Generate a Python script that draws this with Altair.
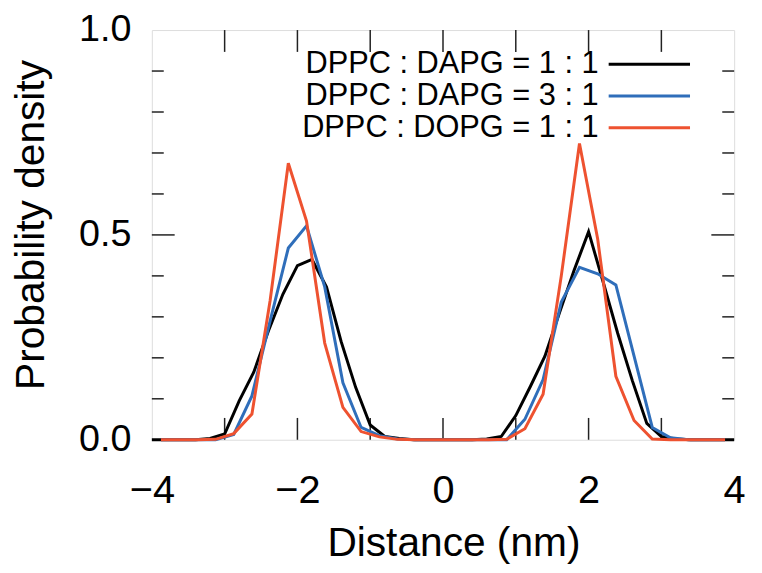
import altair as alt
import pandas as pd

series_names = ["DPPC : DAPG = 1 : 1", "DPPC : DAPG = 3 : 1", "DPPC : DOPG = 1 : 1"]
series_colors = ["#000000", "#2F6EBA", "#EE5230"]

# DPPC : DAPG = 1 : 1 (0.2 nm bins)
black_x = [-4.0, -3.8, -3.6, -3.4, -3.2, -3.0, -2.8, -2.6, -2.4, -2.2, -2.0, -1.8, -1.6, -1.4,
           -1.2, -1.0, -0.8, -0.6, -0.4, -0.2, 0.0, 0.2, 0.4, 0.6, 0.8, 1.0, 1.2, 1.4, 1.6, 1.8,
           2.0, 2.2, 2.4, 2.6, 2.8, 3.0, 3.2, 3.4, 3.6, 3.8, 4.0]
black_y = [0, 0, 0, 0, 0.003, 0.014, 0.095, 0.165, 0.265, 0.355, 0.425, 0.44, 0.373, 0.24,
           0.128, 0.036, 0.008, 0.003, 0, 0, 0, 0, 0, 0.002, 0.008, 0.059, 0.13, 0.204, 0.31, 0.413,
           0.508, 0.385, 0.26, 0.145, 0.04, 0.008, 0.002, 0, 0, 0, 0]

# 0.25 nm bins for the other two systems
bin_x = [-3.875, -3.625, -3.375, -3.125, -2.875, -2.625, -2.375, -2.125, -1.875, -1.625, -1.375,
         -1.125, -0.875, -0.625, -0.375, -0.125, 0.125, 0.375, 0.625, 0.875, 1.125, 1.375, 1.625,
         1.875, 2.125, 2.375, 2.625, 2.875, 3.125, 3.375, 3.625, 3.875]
blue_y = [0, 0, 0, 0, 0.013, 0.107, 0.29, 0.468, 0.522, 0.373, 0.139, 0.03, 0.01, 0.002, 0, 0,
          0, 0, 0, 0, 0.05, 0.147, 0.336, 0.421, 0.405, 0.378, 0.204, 0.03, 0.005, 0, 0, 0]
orange_y = [0, 0, 0, 0.001, 0.015, 0.063, 0.34, 0.675, 0.534, 0.236, 0.079, 0.02, 0.007, 0.001,
            0, 0, 0, 0, 0, 0.001, 0.027, 0.111, 0.40, 0.723, 0.49, 0.155, 0.047, 0.002, 0, 0, 0, 0]

x_labels = [-4, -2, 0, 2, 4]
y_labels = [0.0, 0.5, 1.0]
x_ticks = [-3, -2, -1, 0, 1, 2, 3]
y_minor = [0.1, 0.2, 0.3, 0.4, 0.6, 0.7, 0.8, 0.9]
y_major = [0.5]

rows = []
for xv, yv in zip(black_x, black_y):
    rows.append({"series": series_names[0], "x": xv, "y": yv})
for xv, yv in zip(bin_x, blue_y):
    rows.append({"series": series_names[1], "x": xv, "y": yv})
for xv, yv in zip(bin_x, orange_y):
    rows.append({"series": series_names[2], "x": xv, "y": yv})
df = pd.DataFrame(rows)

W, H = 587, 413
FONT = "Liberation Sans"

xscale = alt.Scale(domain=[-4, 4], nice=False, zero=False)
yscale = alt.Scale(domain=[0, 1], nice=False, zero=False)

x_axis = alt.Axis(values=x_labels, format="d", title="Distance (nm)", labelFontSize=40,
                  titleFontSize=41, labelPadding=31, ticks=False, tickSize=0, domain=False,
                  grid=False, titleX=304, titleY=117, titleBaseline="alphabetic",
                  titleAlign="center", labelFont=FONT, titleFont=FONT, labelColor="black",
                  titleColor="black", titleFontWeight="normal", labelFlush=False)
y_axis = alt.Axis(values=y_labels, format=".1f", title="Probability density", labelFontSize=38,
                  titleFontSize=41, labelPadding=21, ticks=False, tickSize=0, domain=False,
                  grid=False, titleX=-109, titleY=196, titleBaseline="alphabetic",
                  titleAlign="center", titleAngle=270, labelFont=FONT, titleFont=FONT,
                  labelColor="black", titleColor="black", titleFontWeight="normal",
                  labelFlush=False)

# long horizontal stroke as legend symbol (path scaled by sqrt(size)/2)
sym_path = "M-3,0H3"

lines = alt.Chart(df).mark_line(strokeWidth=3).encode(
    x=alt.X("x:Q", scale=xscale, axis=x_axis),
    y=alt.Y("y:Q", scale=yscale, axis=y_axis),
    color=alt.Color("series:N", scale=alt.Scale(domain=series_names, range=series_colors),
                    sort=series_names,
                    legend=alt.Legend(title=None, orient="none", legendX=486, legendY=19,
                                      symbolType=sym_path, symbolSize=747,
                                      symbolStrokeWidth=3, labelFontSize=31, labelFont=FONT,
                                      labelColor="black", labelAlign="right",
                                      labelOffset={"expr": "-66.6"}, labelLimit=500,
                                      rowPadding=0, padding=0)),
    order="x:Q",
)

tick_color = "#222222"
xt = pd.DataFrame({"t": x_ticks})
ymn = pd.DataFrame({"t": y_minor})
ymj = pd.DataFrame({"t": y_major})

x_bottom = alt.Chart(xt).mark_rule(color=tick_color, strokeWidth=1.5).encode(
    x=alt.X("t:Q", scale=xscale, axis=x_axis), y=alt.value(H), y2=alt.value(H - 22))
x_top = alt.Chart(xt).mark_rule(color=tick_color, strokeWidth=1.5).encode(
    x=alt.X("t:Q", scale=xscale, axis=x_axis), y=alt.value(0), y2=alt.value(22))
y_left_minor = alt.Chart(ymn).mark_rule(color=tick_color, strokeWidth=1.5).encode(
    y=alt.Y("t:Q", scale=yscale, axis=y_axis), x=alt.value(0), x2=alt.value(12))
y_right_minor = alt.Chart(ymn).mark_rule(color=tick_color, strokeWidth=1.5).encode(
    y=alt.Y("t:Q", scale=yscale, axis=y_axis), x=alt.value(W), x2=alt.value(W - 12))
y_left_major = alt.Chart(ymj).mark_rule(color=tick_color, strokeWidth=1.5).encode(
    y=alt.Y("t:Q", scale=yscale, axis=y_axis), x=alt.value(0), x2=alt.value(23))
y_right_major = alt.Chart(ymj).mark_rule(color=tick_color, strokeWidth=1.5).encode(
    y=alt.Y("t:Q", scale=yscale, axis=y_axis), x=alt.value(W), x2=alt.value(W - 23))

chart = alt.layer(
    x_bottom, x_top, y_left_minor, y_right_minor, y_left_major, y_right_major, lines
).properties(
    width=W, height=H,
    autosize=alt.AutoSizeParams(type="none"),
    padding={"left": 145, "top": 20, "right": 20, "bottom": 124},
).configure_view(
    stroke="black", strokeWidth=2
).configure(
    background="white"
)

chart.save("out.html", embed_options={"renderer": "svg", "actions": False})
